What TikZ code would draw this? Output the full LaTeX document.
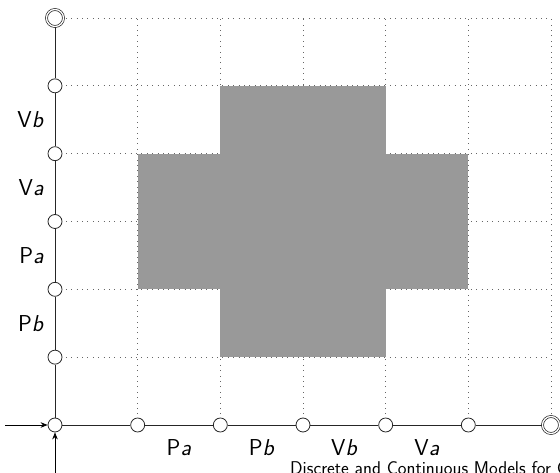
\documentclass[tikz,border=0pt]{standalone}
\usetikzlibrary{arrows.meta}
\begin{document}
\begin{tikzpicture}[x=1pt,y=1pt,
  st/.style={circle,draw=black!85,fill=white,line width=0.8pt,minimum size=14pt,inner sep=0pt},
  fin/.style={circle,draw=black!85,fill=white,line width=0.7pt,minimum size=17pt,inner sep=0pt,double,double distance=1.3pt},
  gridl/.style={black!60,line width=0.8pt,dash pattern=on 0.8pt off 4.6pt},
  axis/.style={black!85,line width=0.8pt},
  lab/.style={font=\fontsize{23}{27}\selectfont\sffamily,inner sep=0pt},
  arr/.style={black,line width=0.8pt,-{Stealth[length=7pt,width=5.5pt]}}]
\useasboundingbox (0,0) rectangle (560,473);
\def\dx{82.667}\def\dy{67.833}
% grid
\foreach \i in {1,...,6}{
  \draw[gridl] (55+\i*\dx,48) -- (55+\i*\dx,455);
  \draw[gridl] (55,48+\i*\dy) -- (551,48+\i*\dy);
}
% forbidden region
\fill[black!40] (55+1*\dx,48+2*\dy) rectangle (55+5*\dx,48+4*\dy);
\fill[black!40] (55+2*\dx,48+1*\dy) rectangle (55+4*\dx,48+5*\dy);
% nodes
\node[st] (o) at (55,48) {};
\foreach \i in {1,...,5}{
  \node[st] (x\i) at (55+\i*\dx,48) {};
  \node[st] (y\i) at (55,48+\i*\dy) {};
}
\node[fin] (x6) at (551,48) {};
\node[fin] (y6) at (55,455) {};
% axes
\draw[axis] (o) -- (x1);
\draw[axis] (x1) -- (x2);
\draw[axis] (x2) -- (x3);
\draw[axis] (x3) -- (x4);
\draw[axis] (x4) -- (x5);
\draw[axis] (x5) -- (x6);
\draw[axis] (o) -- (y1);
\draw[axis] (y1) -- (y2);
\draw[axis] (y2) -- (y3);
\draw[axis] (y3) -- (y4);
\draw[axis] (y4) -- (y5);
\draw[axis] (y5) -- (y6);
% entry arrows
\coordinate (ha) at (5,48);
\coordinate (va) at (55,0);
\draw[arr] (ha) -- (o);
\draw[arr] (va) -- (o);
% labels
\node[lab] (lx1) at (55+1.5*\dx,25) {P\textsl{a}};
\node[lab] (lx2) at (55+2.5*\dx,25) {P\textsl{b}};
\node[lab] (lx3) at (55+3.5*\dx,25) {V\textsl{b}};
\node[lab] (lx4) at (55+4.5*\dx,25) {V\textsl{a}};
\node[lab,anchor=east] (ly1) at (44,48+1.5*\dy) {P\textsl{b}};
\node[lab,anchor=east] (ly2) at (44,48+2.5*\dy) {P\textsl{a}};
\node[lab,anchor=east] (ly3) at (44,48+3.5*\dy) {V\textsl{a}};
\node[lab,anchor=east] (ly4) at (44,48+4.5*\dy) {V\textsl{b}};
% footline (cut off by the frame, as in the reference)
\node[font=\fontsize{18.5}{21}\selectfont\sffamily,anchor=base west,inner sep=0pt] (foot) at (290,-2) {Discrete and Continuous Models for Concurrency};
\end{tikzpicture}
\end{document}
